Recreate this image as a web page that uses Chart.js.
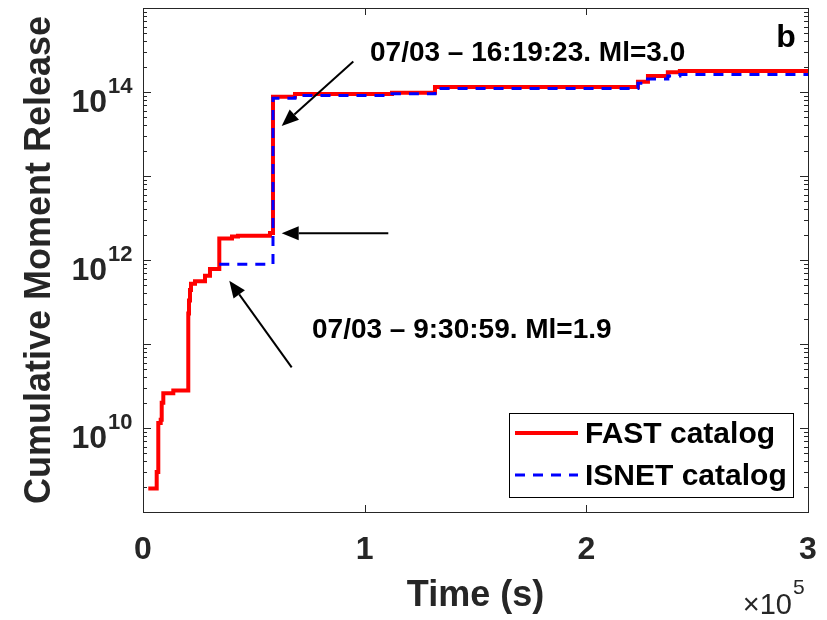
<!DOCTYPE html>
<html>
<head>
<meta charset="utf-8">
<script src="https://cdn.jsdelivr.net/npm/chart.js@4.4.0/dist/chart.umd.min.js"></script>
<style>
  html, body { margin: 0; padding: 0; background: #fff; }
  canvas { display: block; }
</style>
</head>
<body>
<canvas id="momentChart" width="827" height="620"></canvas>
<script>
// cumulative moment release, stairs (time in s)
const fastTime = [2390, 6180, 6900, 7980, 8440, 9160, 13670, 20430, 20750, 21200, 21650, 23460, 27970, 30220,
  34420, 40150, 42860, 57290, 58640, 68560, 112320, 131720, 223290, 227800, 236770, 242200, 300000];
const fastMoment = [1.9e9, 3.0e9, 1.15e10, 1.25e10, 2.0e10, 2.6e10, 2.8e10, 2.3e11, 3.3e11, 4.4e11, 5.2e11, 5.6e11, 6.5e11, 7.8e11,
  1.8e12, 1.9e12, 1.95e12, 2.1e12, 8.8e13, 9.46e13, 9.8e13, 1.15e14, 1.32e14, 1.55e14, 1.72e14, 1.78e14, 1.78e14];

// ISNET's first event is the Ml 1.9 one
const isnetTime = [34420, 58640, 68560, 112320, 131720, 223290, 225500, 236770, 242200, 300000];
const isnetMoment = [8.9e11, 8.4e13, 9.1e13, 9.5e13, 1.1e14, 1.27e14, 1.43e14, 1.55e14, 1.62e14, 1.62e14];

const xTicks = [0, 100000, 200000, 300000];
const xTickLabels = ['0', '1', '2', '3'];
const yTickExp = [10, 12, 14];

const seriesNames = ['FAST catalog', 'ISNET catalog'];

// annotations (data coordinates)
const noteText = ['07/03 \u2013 16:19:23. Ml=3.0', '07/03 \u2013 9:30:59. Ml=1.9'];
const noteX = [102400, 76240];
const noteY = [2.9e14, 1.47e11];
const arrowFrom = [[94870, 2.3e14], [110660, 2.08e12], [67080, 5.28e10]];
const arrowTo = [[62570, 3.94e13], [62570, 2.08e12], [38930, 5.68e11]];

const FONT = "'Liberation Sans', Arial, sans-serif";
const AXIS_COLOR = '#262626';

function toPoints(xs, ys) {
    return xs.map((x, i) => ({ x: x, y: ys[i] }));
}

function drawArrow(ctx, x1, y1, x2, y2) {
    const ang = Math.atan2(y2 - y1, x2 - x1);
    const headLen = 17, headW = 7;
    const bx = x2 - headLen * Math.cos(ang), by = y2 - headLen * Math.sin(ang);
    ctx.beginPath();
    ctx.moveTo(x1, y1);
    ctx.lineTo(bx, by);
    ctx.strokeStyle = '#000';
    ctx.lineWidth = 2;
    ctx.stroke();
    ctx.beginPath();
    ctx.moveTo(x2, y2);
    ctx.lineTo(bx + headW * Math.sin(ang), by - headW * Math.cos(ang));
    ctx.lineTo(bx - headW * Math.sin(ang), by + headW * Math.cos(ang));
    ctx.closePath();
    ctx.fillStyle = '#000';
    ctx.fill();
}

const matlabAxes = {
    id: 'matlabAxes',
    afterDatasetsDraw(chart) {
        const ctx = chart.ctx;
        const a = chart.chartArea;
        const xs = chart.scales.x, ys = chart.scales.y;
        ctx.save();

        // frame
        ctx.strokeStyle = AXIS_COLOR;
        ctx.lineWidth = 1;
        ctx.strokeRect(a.left + 0.5, a.top + 0.5, a.right - a.left, a.bottom - a.top);

        // y ticks, major + minor, inside on both sides
        ctx.beginPath();
        for (let e = 9; e < 15; e++) {
            for (let m = 1; m <= 9; m++) {
                const py = Math.round(ys.getPixelForValue(m * Math.pow(10, e))) + 0.5;
                const len = m === 1 ? 8 : 4;
                ctx.moveTo(a.left, py); ctx.lineTo(a.left + len, py);
                ctx.moveTo(a.right, py); ctx.lineTo(a.right - len, py);
            }
        }
        // x ticks
        xTicks.forEach(v => {
            const px = Math.round(xs.getPixelForValue(v)) + 0.5;
            ctx.moveTo(px, a.bottom); ctx.lineTo(px, a.bottom - 7);
            ctx.moveTo(px, a.top); ctx.lineTo(px, a.top + 7);
        });
        ctx.stroke();

        // x tick labels
        ctx.fillStyle = AXIS_COLOR;
        ctx.font = 'bold 32px ' + FONT;
        ctx.textAlign = 'center';
        ctx.textBaseline = 'alphabetic';
        xTicks.forEach((v, i) => {
            ctx.fillText(xTickLabels[i], xs.getPixelForValue(v), a.bottom + 47);
        });

        // x exponent
        ctx.font = '29px ' + FONT;
        ctx.textAlign = 'right';
        ctx.fillText('\u00d710', a.right - 16, a.bottom + 102);
        ctx.font = '21px ' + FONT;
        ctx.textAlign = 'left';
        ctx.fillText('5', a.right - 15, a.bottom + 82);

        // y tick labels 10^n
        yTickExp.forEach(e => {
            const py = ys.getPixelForValue(Math.pow(10, e));
            ctx.font = 'bold 32px ' + FONT;
            ctx.textAlign = 'right';
            ctx.fillText('10', a.left - 36, py + 20);
            ctx.font = 'bold 22px ' + FONT;
            ctx.textAlign = 'left';
            ctx.fillText(String(e), a.left - 35, py + 1);
        });

        // axis titles
        ctx.font = 'bold 36px ' + FONT;
        ctx.textAlign = 'center';
        ctx.fillText('Time (s)', (a.left + a.right) / 2, a.bottom + 94);
        ctx.save();
        ctx.translate(50, (a.top + a.bottom) / 2);
        ctx.rotate(-Math.PI / 2);
        ctx.fillText('Cumulative Moment Release', 0, 0);
        ctx.restore();

        // panel letter
        ctx.fillStyle = '#000';
        ctx.font = 'bold 32px ' + FONT;
        ctx.textAlign = 'center';
        ctx.fillText('b', a.right - 22, a.top + 39);

        // annotations
        ctx.font = 'bold 28px ' + FONT;
        ctx.textAlign = 'left';
        ctx.textBaseline = 'middle';
        noteText.forEach((t, i) => {
            ctx.fillText(t, xs.getPixelForValue(noteX[i]), ys.getPixelForValue(noteY[i]));
        });
        arrowFrom.forEach((p, i) => {
            drawArrow(ctx,
                xs.getPixelForValue(p[0]), ys.getPixelForValue(p[1]),
                xs.getPixelForValue(arrowTo[i][0]), ys.getPixelForValue(arrowTo[i][1]));
        });

        // legend
        const lx = 509, ly = 413, lw = 284, lh = 84;
        ctx.fillStyle = '#fff';
        ctx.fillRect(lx, ly, lw, lh);
        ctx.strokeStyle = '#000';
        ctx.lineWidth = 1;
        ctx.strokeRect(lx + 0.5, ly + 0.5, lw, lh);
        chart.data.datasets.forEach((ds, i) => {
            const rowY = ly + 20 + i * 42;
            ctx.beginPath();
            ctx.setLineDash(ds.borderDash || []);
            ctx.strokeStyle = ds.borderColor;
            ctx.lineWidth = ds.borderWidth;
            ctx.moveTo(lx + 6, rowY);
            ctx.lineTo(lx + 69, rowY);
            ctx.stroke();
            ctx.setLineDash([]);
            ctx.fillStyle = '#000';
            ctx.font = 'bold 30px ' + FONT;
            ctx.textBaseline = 'middle';
            ctx.fillText(ds.label, lx + 76, rowY + 2);
        });

        ctx.restore();
    }
};

const ctx = document.getElementById('momentChart').getContext('2d');
new Chart(ctx, {
    type: 'line',
    data: {
        datasets: [{
            label: seriesNames[0],
            data: toPoints(fastTime, fastMoment),
            borderColor: '#ff0000',
            borderWidth: 4,
            stepped: 'before',
            pointRadius: 0,
            order: 1
        }, {
            label: seriesNames[1],
            data: toPoints(isnetTime, isnetMoment),
            borderColor: '#0000ff',
            borderWidth: 3,
            borderDash: [10, 8],
            stepped: 'before',
            pointRadius: 0,
            order: 0
        }]
    },
    options: {
        responsive: false,
        animation: false,
        devicePixelRatio: 1,
        layout: { padding: { left: 143, right: 19, top: 8, bottom: 108 } },
        scales: {
            x: { type: 'linear', min: 0, max: 300000, display: false },
            y: { type: 'logarithmic', min: 1e9, max: 1e15, display: false }
        },
        plugins: {
            legend: { display: false },
            tooltip: { enabled: false }
        }
    },
    plugins: [matlabAxes]
});
</script>
</body>
</html>
